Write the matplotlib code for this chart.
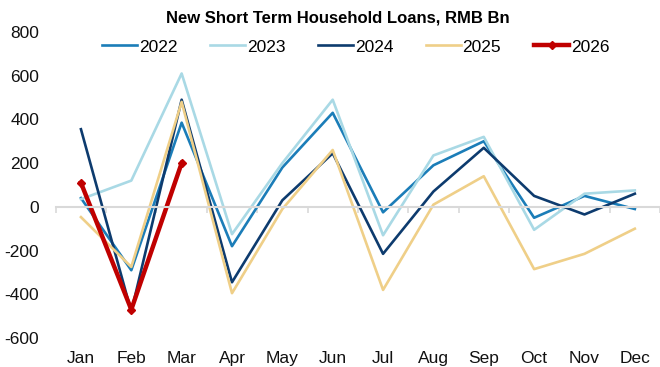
import numpy as np
import matplotlib
matplotlib.use("Agg")
import matplotlib.pyplot as plt

plt.rcParams['font.family'] = ['Liberation Sans', 'DejaVu Sans']
plt.rcParams['axes.unicode_minus'] = False

# data (RMB bn)
months = ['Jan', 'Feb', 'Mar', 'Apr', 'May', 'Jun',
          'Jul', 'Aug', 'Sep', 'Oct', 'Nov', 'Dec']
y2022 = [40, -290, 385, -180, 180, 430, -25, 190, 300, -50, 50, -10]
y2023 = [35, 120, 610, -125, 200, 490, -130, 235, 320, -105, 60, 75]
y2024 = [355, -480, 490, -345, 30, 245, -215, 70, 270, 50, -35, 60]
y2025 = [-47, -275, 480, -395, -10, 260, -380, 10, 140, -285, -215, -100]
y2026 = [110, -470, 200]

series = [
    ('2022', y2022, '#1b7db8', 1.9),
    ('2023', y2023, '#a9d9e5', 1.9),
    ('2024', y2024, '#0d3b6e', 1.9),
    ('2025', y2025, '#efcf88', 1.9),
]

fig = plt.figure(figsize=(6.6, 3.67), dpi=100)
ax = fig.add_axes([0.0845, 0.079, 0.9155, 0.834])

x = np.arange(len(months))
for name, vals, col, lw in series:
    ax.plot(x[:len(vals)], vals, color=col, lw=lw, label=name)
ax.plot(x[:len(y2026)], y2026, color='#c00000', lw=3.2, marker='D',
        markersize=4.5, label='2026')

ax.set_xlim(-0.5, 11.5)
ax.set_ylim(-600, 800)
ax.set_yticks(np.arange(-600, 801, 200))
ax.tick_params(axis='y', length=0, pad=12, labelsize=12.5, labelcolor='#111111')

for s in ['top', 'right', 'left']:
    ax.spines[s].set_visible(False)
ax.spines['bottom'].set_position(('data', 0))
ax.spines['bottom'].set_color('#d9d9d9')
ax.spines['bottom'].set_linewidth(1.5)
ax.set_xticks(np.arange(-0.5, 12, 1), minor=True)
ax.set_xticks(x)
ax.tick_params(axis='x', which='major', length=0, labelbottom=False)
ax.tick_params(axis='x', which='minor', length=4, width=1.2, color='#d9d9d9',
               direction='out')

sec = ax.secondary_xaxis('bottom')
sec.set_xticks(x, labels=months)
sec.tick_params(length=0, pad=9, labelsize=12.5, labelcolor='#111111')
sec.spines['bottom'].set_visible(False)

fig.text(0.512, 0.95, 'New Short Term Household Loans, RMB Bn',
         ha='center', va='center', fontsize=12, fontweight='bold')

fig.legend(loc='center', bbox_to_anchor=(0.539, 0.872), ncol=5, frameon=False,
           fontsize=12.5, handlelength=2.0, handletextpad=0.1,
           columnspacing=1.9)

fig.savefig('out.png', dpi=100)
